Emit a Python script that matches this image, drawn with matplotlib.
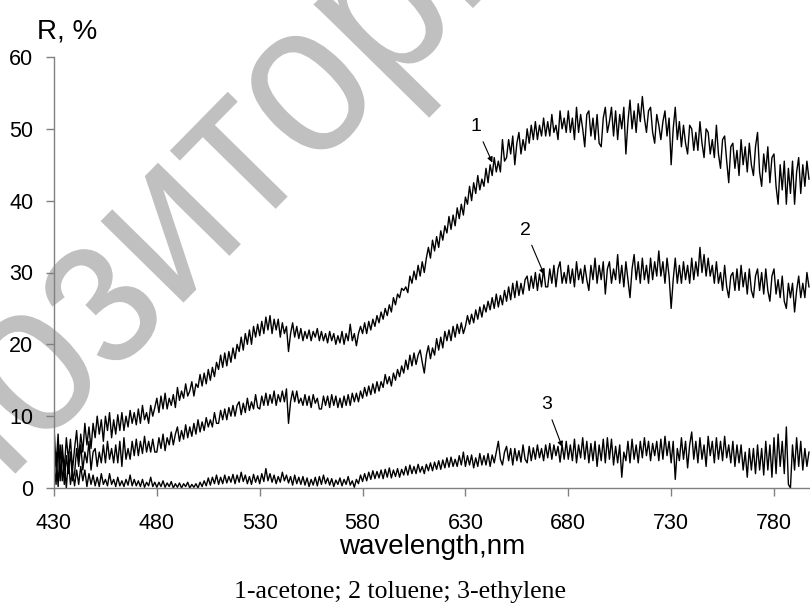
import matplotlib
matplotlib.use("Agg")
import matplotlib.pyplot as plt
import numpy as np
from matplotlib.textpath import TextPath
from matplotlib.patches import PathPatch
from matplotlib.font_manager import FontProperties
from matplotlib.transforms import Affine2D

# wavelength grid, nm (1 nm step)
wavelength = np.arange(430, 798)

# reflectance, %, one value per nm
acetone = [
    8.5, 3.0, 7.5, 1.0, 6.0, 2.5, 7.0, 4.0, 6.8, 2.5,
    5.5, 8.0, 4.0, 7.5, 5.0, 9.0, 6.0, 8.5, 5.5, 9.0,
    7.0, 10.0, 7.5, 9.5, 6.5, 10.0, 8.0, 10.5, 7.0, 9.5,
    7.5, 10.2, 8.0, 10.5, 8.0, 10.0, 8.5, 10.8, 9.0, 10.5,
    8.8, 11.0, 9.0, 11.5, 9.5, 10.5, 9.0, 11.5, 10.0, 11.2,
    12.5, 10.5, 12.8, 11.0, 13.2, 11.0, 12.5, 11.5, 13.0, 11.2,
    14.0, 12.2, 13.5, 12.5, 14.5, 12.8, 13.5, 14.8, 12.8, 14.5,
    14.0, 15.8, 14.2, 16.0, 14.5, 16.5, 15.0, 16.8, 15.5, 17.5,
    16.5, 18.5, 16.8, 18.8, 17.0, 19.0, 17.5, 19.5, 18.0, 20.0,
    19.0, 21.0, 19.2, 21.5, 20.0, 22.0, 20.0, 22.5, 21.0, 22.8,
    21.2, 23.2, 21.5, 23.8, 22.0, 24.0, 21.5, 23.5, 22.0, 23.5,
    21.0, 23.0, 21.5, 22.5, 19.0, 21.5, 23.0, 21.0, 22.5, 20.8,
    22.2, 20.5, 21.8, 20.8, 22.0, 20.5, 21.8, 21.0, 22.2, 20.5,
    21.8, 20.5, 21.5, 20.2, 21.8, 20.5, 21.5, 20.0, 21.2, 20.2,
    21.8, 20.0, 21.5, 20.5, 22.8, 20.5, 21.5, 19.8, 21.5, 22.5,
    21.5, 23.0, 21.5, 23.2, 22.0, 23.5, 22.5, 24.0, 23.0, 24.5,
    23.5, 25.0, 24.0, 25.5, 24.5, 26.5, 25.5, 27.0, 26.5, 27.8,
    27.5, 28.0, 27.2, 29.5, 28.5, 30.2, 29.0, 31.0, 29.5, 31.5,
    30.0, 32.0, 33.5, 32.0, 34.5, 33.0, 35.0, 33.5, 35.8, 34.5,
    36.5, 35.5, 37.8, 36.0, 38.0, 36.5, 39.0, 37.5, 39.5, 38.0,
    40.5, 39.5, 42.0, 40.0, 42.5, 41.0, 43.5, 41.5, 43.0, 42.0,
    44.5, 42.5, 45.0, 43.5, 46.0, 44.0, 45.5, 44.0, 48.5, 45.5,
    46.0, 48.5, 46.5, 49.0, 45.0, 48.0, 49.5, 46.5, 48.5, 47.0,
    50.0, 48.0, 50.5, 48.5, 51.0, 48.5, 50.5, 49.0, 51.5, 49.0,
    51.0, 49.0, 52.0, 49.5, 50.5, 48.5, 52.5, 50.0, 51.5, 49.5,
    52.5, 49.5, 51.5, 48.5, 53.0, 49.5, 52.0, 50.0, 47.5, 52.0,
    52.5, 49.0, 51.5, 48.5, 52.0, 48.0, 47.5, 51.5, 53.0, 49.5,
    51.0, 53.0, 49.0, 52.5, 48.5, 52.0, 50.0, 53.0, 46.5, 51.0,
    54.0, 50.0, 52.5, 49.5, 53.5, 51.0, 54.5, 51.5, 49.5, 52.5,
    53.0, 49.5, 48.0, 52.0, 50.5, 48.5, 51.0, 52.5, 49.0, 51.5,
    45.0, 50.0, 53.0, 48.5, 51.0, 47.5, 50.5, 48.0, 46.5, 50.5,
    50.0, 47.0, 49.5, 47.0, 51.0, 48.0, 46.0, 50.0, 49.5, 46.5,
    48.5, 46.0, 50.5, 46.5, 44.5, 48.5, 49.0, 45.5, 42.5, 47.5,
    48.0, 44.5, 47.0, 43.5, 48.5, 45.0, 47.5, 44.0, 48.0, 45.0,
    43.5, 47.5, 49.5, 44.0, 42.0, 46.5, 44.0, 47.5, 42.5, 46.0,
    46.5, 42.0, 39.5, 45.0, 41.5, 45.5, 39.5, 44.5, 41.0, 45.5,
    39.5, 44.0, 46.0, 41.0, 45.0, 42.0, 45.5, 43.0,
]
toluene = [
    3.5, 0.5, 6.0, 1.5, 5.0, 0.5, 4.5, 2.0, 5.0, 1.0,
    2.0, 5.5, 3.0, 6.0, 2.5, 5.0, 3.5, 6.5, 2.5, 5.0,
    5.5, 3.0, 5.0, 3.5, 6.0, 3.5, 6.5, 4.0, 5.5, 3.5,
    6.0, 3.5, 6.5, 3.0, 7.0, 4.0, 5.5, 4.0, 6.5, 4.5,
    6.8, 4.5, 6.5, 4.8, 7.2, 5.0, 6.5, 5.0, 6.8, 5.0,
    5.0, 7.0, 5.5, 7.5, 5.2, 7.0, 6.0, 7.8, 6.0, 7.5,
    8.5, 6.5, 8.0, 6.8, 8.8, 7.0, 8.5, 7.2, 9.0, 7.5,
    9.5, 7.8, 9.2, 8.0, 9.8, 8.5, 9.5, 8.5, 10.5, 9.0,
    9.0, 10.8, 9.5, 11.0, 9.5, 11.2, 10.0, 11.5, 10.0, 11.5,
    12.0, 10.2, 11.8, 10.5, 12.5, 10.8, 12.0, 11.0, 13.0, 11.2,
    11.0, 12.8, 11.5, 13.2, 11.5, 13.0, 11.8, 13.5, 11.5, 13.0,
    12.0, 13.5, 12.0, 13.8, 9.0, 12.0, 13.5, 12.0, 13.5, 11.8,
    12.5, 11.5, 13.0, 11.5, 12.8, 11.2, 13.0, 11.8, 12.5, 11.0,
    11.0, 12.8, 11.5, 12.8, 11.2, 13.0, 11.5, 12.8, 11.2, 12.5,
    11.2, 12.8, 11.5, 13.0, 11.5, 13.2, 12.0, 13.2, 12.0, 13.5,
    12.5, 14.0, 12.8, 14.2, 13.0, 14.5, 13.2, 14.8, 13.5, 14.8,
    14.0, 15.8, 14.5, 15.5, 14.2, 16.0, 15.0, 16.5, 15.5, 17.0,
    16.0, 17.8, 16.5, 18.5, 17.0, 18.8, 17.2, 18.5, 19.2, 17.5,
    16.0, 18.5, 19.8, 18.0, 19.5, 18.5, 20.8, 19.2, 21.0, 19.5,
    21.8, 20.5, 22.0, 20.5, 22.5, 21.0, 22.8, 21.5, 23.0, 21.5,
    22.5, 24.0, 22.8, 24.2, 23.0, 24.8, 23.5, 25.2, 23.8, 25.5,
    24.5, 26.0, 24.8, 26.5, 25.0, 27.0, 25.2, 26.8, 25.5, 27.5,
    26.0, 28.0, 26.2, 28.5, 26.5, 28.8, 26.8, 28.5, 27.0, 29.0,
    29.5, 27.5, 29.5, 27.8, 30.0, 27.5, 29.8, 28.0, 30.5, 28.0,
    28.0, 30.5, 28.5, 31.0, 28.0, 30.5, 31.5, 28.5, 30.0, 28.5,
    31.0, 28.5, 30.5, 28.0, 31.5, 29.0, 30.5, 28.5, 31.0, 29.0,
    27.5, 31.0, 29.0, 32.0, 28.5, 31.0, 29.0, 31.5, 27.0, 30.5,
    31.5, 28.5, 30.5, 29.0, 32.5, 28.5, 31.0, 28.0, 31.5, 29.0,
    26.5, 30.5, 32.5, 29.0, 31.5, 28.5, 32.0, 29.0, 31.0, 28.5,
    32.0, 29.0, 31.5, 29.5, 33.0, 29.5, 31.5, 28.5, 32.0, 29.5,
    25.0, 29.0, 32.0, 28.5, 31.0, 28.5, 31.5, 29.0, 31.0, 28.5,
    32.0, 29.0, 31.5, 29.5, 33.5, 30.0, 32.5, 29.5, 32.0, 29.5,
    31.0, 28.5, 31.5, 28.5, 30.0, 27.5, 31.0, 28.0, 26.5, 29.5,
    30.0, 27.5, 30.5, 27.5, 31.0, 28.0, 30.0, 27.0, 30.5, 27.5,
    26.5, 29.5, 30.5, 27.5, 30.0, 27.0, 30.5, 27.5, 26.0, 29.5,
    30.5, 27.0, 29.0, 26.5, 29.5, 26.0, 25.0, 28.5, 26.5, 28.5,
    24.5, 27.5, 29.5, 26.5, 28.5, 26.5, 30.0, 28.0,
]
ethylene = [
    1.0, 5.0, 0.2, 6.0, 1.0, 3.5, 0.0, 4.0, 0.5, 2.5,
    0.3, 2.5, 0.5, 3.0, 1.0, 2.5, 0.2, 2.0, 0.5, 1.8,
    0.3, 1.5, 0.2, 2.0, 0.5, 1.2, 0.3, 2.0, 0.5, 1.2,
    0.2, 1.5, 0.3, 1.0, 0.2, 1.2, 0.4, 1.8, 0.3, 1.2,
    0.3, 1.0, 0.2, 1.2, 0.1, 0.8, 0.3, 1.5, 0.2, 0.8,
    0.1, 0.8, 0.2, 1.0, 0.1, 0.7, 0.2, 0.9, 0.0, 0.6,
    0.1, 0.7, 0.0, 0.6, 0.2, 0.8, 0.0, 0.5, 0.1, 0.6,
    0.0, 0.8, 0.2, 1.0, 0.3, 1.4, 0.4, 1.5, 0.6, 1.8,
    0.5, 1.5, 0.6, 1.8, 0.7, 1.6, 0.8, 1.9, 0.6, 1.8,
    0.8, 2.2, 0.9, 1.8, 0.6, 1.6, 0.5, 1.9, 0.8, 1.7,
    0.6, 2.0, 0.9, 2.7, 1.0, 2.0, 0.8, 1.8, 0.6, 1.6,
    0.8, 2.2, 1.0, 1.8, 0.7, 1.6, 0.4, 1.8, 0.6, 1.5,
    0.5, 1.6, 0.4, 1.4, 0.2, 1.2, 0.4, 1.5, 0.3, 1.6,
    0.5, 1.8, 0.6, 1.4, 0.4, 1.3, 0.2, 1.1, 0.5, 1.4,
    0.3, 1.2, 0.5, 1.6, 0.4, 1.0, 0.1, 1.2, 0.6, 1.8,
    0.9, 2.0, 1.0, 2.2, 1.2, 2.4, 1.3, 2.3, 1.4, 2.5,
    1.3, 2.6, 1.5, 2.8, 1.4, 2.5, 1.6, 2.7, 1.5, 2.6,
    1.8, 3.0, 1.8, 3.2, 2.0, 3.0, 2.0, 3.3, 2.2, 3.0,
    2.0, 3.3, 2.4, 3.5, 2.4, 3.6, 2.6, 3.8, 2.6, 3.9,
    2.8, 4.2, 2.9, 4.3, 3.0, 4.0, 3.0, 4.5, 3.2, 5.0,
    3.0, 4.5, 3.2, 4.6, 2.8, 4.2, 3.0, 4.8, 3.2, 4.5,
    3.2, 4.8, 3.0, 4.6, 3.5, 5.0, 6.5, 4.0, 3.2, 5.0,
    5.8, 3.8, 5.5, 3.2, 5.5, 3.8, 5.2, 3.6, 6.0, 4.0,
    3.5, 5.8, 3.8, 5.6, 4.0, 6.0, 4.2, 5.5, 3.8, 6.0,
    4.2, 6.2, 4.0, 6.0, 4.5, 5.8, 3.6, 6.0, 4.0, 6.5,
    4.0, 6.0, 3.8, 6.8, 3.5, 6.0, 4.2, 7.0, 4.0, 6.5,
    3.5, 6.2, 3.8, 6.5, 3.0, 6.0, 3.8, 6.8, 3.5, 7.0,
    4.0, 6.8, 3.2, 5.8, 3.5, 6.0, 1.5, 5.0, 3.8, 6.5,
    3.5, 6.8, 4.0, 6.0, 3.5, 6.5, 4.2, 7.0, 4.5, 6.5,
    3.8, 6.2, 4.5, 6.5, 3.8, 6.8, 4.0, 7.2, 4.5, 6.5,
    3.5, 6.5, 1.2, 5.5, 3.8, 7.0, 4.0, 6.5, 2.8, 6.0,
    7.8, 4.0, 6.5, 3.5, 7.0, 4.0, 6.0, 3.0, 7.2, 4.5,
    6.5, 3.5, 7.0, 4.0, 6.5, 3.8, 7.2, 4.2, 6.0, 3.5,
    6.5, 3.0, 6.0, 3.5, 6.0, 2.5, 5.0, 1.5, 5.5, 2.5,
    5.5, 2.0, 6.0, 2.5, 5.5, 1.8, 6.5, 2.5, 6.0, 1.5,
    7.0, 2.0, 7.5, 3.0, 6.5, 2.0, 8.5, 0.5, 0.0, 6.0,
    2.5, 7.0, 3.0, 6.5, 2.5, 5.5, 3.0, 5.0,
]

x_ticks = [430, 480, 530, 580, 630, 680, 730, 780]
y_ticks = [0, 10, 20, 30, 40, 50, 60]

# curve number, label position, arrow tip
labels = ["1", "2", "3"]
label_xy = [(635.3, 50.3), (659.1, 35.9), (669.3, 11.6)]
tip_xy = [(643.1, 45.3), (668.3, 29.7), (677.1, 5.7)]

fig = plt.figure(figsize=(8.1, 6.04), dpi=100)

# watermark, drawn as a text path centred on its 8th letter
fp = FontProperties(family="Liberation Sans")
word = "Репозиторий"
tp = TextPath((0, 0), word, size=100, prop=fp)
head = TextPath((0, 0), word[:8], size=100, prop=fp).get_extents()
o_ext = TextPath((0, 0), "о", size=100, prop=fp).get_extents()
ox = head.x1 - o_ext.width / 2
oy = (o_ext.y0 + o_ext.y1) / 2
wm_tr = (Affine2D().translate(-ox, -oy).scale(1.95, 2.2)
         .rotate_deg(45.5).translate(308, 604 - 93))
fig.add_artist(PathPatch(tp, transform=wm_tr, facecolor="#c0c0c0",
                         edgecolor="none", zorder=-1))

ax = fig.add_axes([54 / 810, 116 / 604, 756 / 810, 431 / 604])
ax.patch.set_alpha(0)

for series in (acetone, toluene, ethylene):
    ax.plot(wavelength, series, color="black", lw=1.0)

for lab, txy, xy in zip(labels, label_xy, tip_xy):
    ax.annotate(lab, xy=xy, xytext=txy, ha="center", va="center",
                fontsize=14, family="Liberation Sans",
                arrowprops=dict(arrowstyle="-|>", color="black", lw=0.8,
                                mutation_scale=8, shrinkA=3, shrinkB=0))

ax.set_xlim(430, 797.5)
ax.set_ylim(0, 60)
ax.set_xticks(x_ticks)
ax.set_yticks(y_ticks)
for s in ("top", "right"):
    ax.spines[s].set_visible(False)
for s in ("left", "bottom"):
    ax.spines[s].set_color("#808080")
    ax.spines[s].set_linewidth(1.0)
ax.tick_params(direction="out", length=6, width=1, color="#808080",
               labelsize=15.5)
ax.tick_params(axis="x", pad=12)
ax.tick_params(axis="y", pad=9)
for t in ax.get_xticklabels() + ax.get_yticklabels():
    t.set_family("Liberation Sans")

ax.set_xlabel("wavelength,nm", fontsize=20, family="Liberation Sans",
              labelpad=0)
fig.text(37 / 810, 1 - 38 / 604, "R, %", fontsize=20,
         family="Liberation Sans", va="baseline", ha="left")
fig.text(400 / 810, 6 / 604, "1-acetone; 2 toluene; 3-ethylene",
         fontsize=18.5, family="Liberation Serif", ha="center",
         va="baseline")

fig.savefig("out.png", dpi=100)
